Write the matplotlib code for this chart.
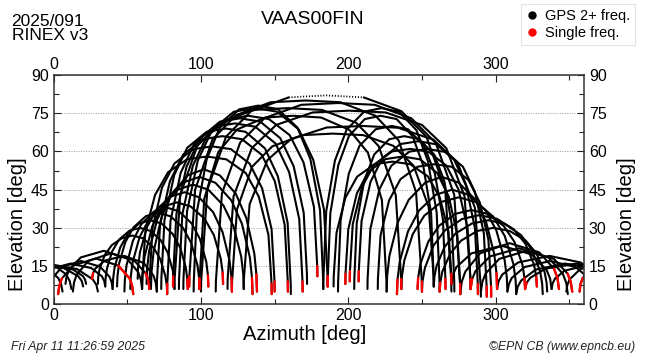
import matplotlib
matplotlib.use("Agg")
import matplotlib.pyplot as plt
from matplotlib.lines import Line2D

plt.rcParams['font.family'] = ['Liberation Sans', 'DejaVu Sans']

# ---------------- data: satellite tracks (azimuth, elevation) -------------
# north-west low passes
nw_az = [
    [270, 271, 273.4, 283.6, 304, 324.4, 334.6, 337, 338],
    [276, 277, 279.4, 289.4, 309.5, 329.6, 339.7, 342, 343],
    [283, 284, 286.3, 296.2, 316, 335.8, 345.7, 348, 349],
    [290, 291, 293.1, 302.4, 321, 339.6, 348.9, 351, 352],
    [301, 302, 304.6, 315.2, 336.5, 357.8, 368.5, 370.9, 372],
    [308, 309, 310.9, 319.6, 337, 354.4, 363.1, 365, 366],
    [314, 315, 317.3, 327.2, 347, 366.8, 376.7, 379, 380],
    [320, 321, 323.5, 334, 355, 376, 386.5, 389, 390],
]
nw_el = [
    [8, 11.6, 14.6, 20, 23, 19.6, 13.5, 10.1, 6],
    [4, 8.8, 12.8, 20, 24, 20.4, 13.9, 10.3, 6],
    [6, 9.8, 13, 18.8, 22, 18.4, 11.9, 8.3, 4],
    [5, 8.8, 12, 17.8, 21, 17.8, 12, 8.8, 5],
    [6, 9.1, 11.7, 16.4, 19, 16.4, 11.7, 9.1, 6],
    [5, 7.9, 10.3, 14.6, 17, 14.6, 10.3, 7.9, 5],
    [4, 6.9, 9.3, 13.6, 16, 14.2, 11, 9.2, 7],
    [6, 8.4, 10.4, 14, 16, 13.8, 9.8, 7.6, 5],
]
nw_red = [(0, 0), (0, 2), (1, 0), (0, 2), (0, 0), (0, 0), (0, 0), (1, 0)]

# north-east low passes
ne_az = [
    [-22, -21.3, -19.8, -13.2, 0, 13.2, 19.8, 21.3, 22],
    [-12, -11.3, -9.7, -2.6, 11.5, 25.6, 32.7, 34.3, 35],
    [-3, -2.4, -0.9, 5.6, 18.5, 31.4, 37.9, 39.4, 40],
    [3, 3.8, 5.6, 13.2, 28.5, 43.8, 51.5, 53.2, 54],
    [8, 8.8, 10.6, 18.4, 34, 49.6, 57.4, 59.2, 60],
    [13, 13.8, 15.6, 23.4, 39, 54.6, 62.4, 64.2, 65],
    [26, 26.7, 28.2, 34.8, 48, 61.2, 67.8, 69.3, 70],
]
ne_el = [
    [6, 8.2, 10, 13.2, 15, 13.6, 11.1, 9.7, 8],
    [5, 7.6, 9.8, 13.8, 16, 14.2, 11, 9.2, 7],
    [5, 7.9, 10.3, 14.6, 17, 14.8, 10.8, 8.6, 6],
    [4, 7.4, 10.2, 15.2, 18, 15.2, 10.2, 7.4, 4],
    [8, 11.1, 13.7, 18.4, 21, 18, 12.6, 9.6, 6],
    [5, 8.6, 11.6, 17, 20, 17.2, 12.2, 9.4, 6],
    [10, 12.2, 14, 17.2, 19, 16.2, 11.2, 8.4, 5],
]
ne_red = [(0, 0), (0, 0), (2, 0), (2, 3), (0, 0), (0, 2), (1, 0)]

# eastern medium passes
e_az = [
    [30, 30.2, 31.2, 34.7, 39.4, 46.5, 53.5, 60.6, 67.6, 72.3, 75.8, 76.8, 77],
    [35, 35.2, 36.2, 39.7, 44.4, 51.5, 58.5, 65.6, 72.6, 77.3, 80.8, 81.8, 82],
    [40, 40.3, 41.3, 45.1, 50.2, 57.9, 65.5, 73.2, 80.8, 85.9, 89.7, 90.7, 91],
    [43, 43.3, 44.4, 48.6, 54.2, 62.6, 71, 79.4, 87.8, 93.4, 97.6, 98.7, 99],
    [48, 48.3, 49.4, 53.7, 59.4, 68, 76.5, 85.1, 93.6, 99.3, 103.6, 104.7, 105],
    [52, 52.3, 53.6, 58.3, 64.6, 74.1, 83.5, 93, 102.4, 108.7, 113.4, 114.7, 115],
    [57, 57.3, 58.6, 63.4, 69.8, 79.4, 89, 98.6, 108.2, 114.6, 119.4, 120.7, 121],
    [60, 60.3, 61.7, 66.9, 73.8, 84.2, 94.5, 104.9, 115.2, 122.1, 127.3, 128.7, 129],
    [63, 63.4, 64.8, 70.2, 77.4, 88.2, 99, 109.8, 120.6, 127.8, 133.2, 134.6, 135],
    [66, 66.4, 67.8, 73.2, 80.4, 91.2, 102, 112.8, 123.6, 130.8, 136.2, 137.6, 138],
]
e_el = [
    [8, 10.7, 13.9, 19.4, 23.2, 26, 27, 25.9, 22.4, 17.8, 11.1, 7.2, 4],
    [7, 10.2, 14.1, 20.8, 25.4, 28.9, 30, 28.8, 25.2, 20.4, 13.4, 9.4, 6],
    [6, 9.8, 14.4, 22.2, 27.6, 31.7, 33, 31.7, 27.6, 22.2, 14.4, 9.8, 6],
    [7, 11.1, 16, 24.4, 30.2, 34.6, 36, 34.5, 30, 24, 15.3, 10.2, 6],
    [5, 9.6, 15.2, 24.8, 31.4, 36.4, 38, 36.5, 31.8, 25.6, 16.6, 11.3, 7],
    [6, 10.8, 16.5, 26.4, 33.2, 38.3, 40, 38.4, 33.6, 27.2, 17.9, 12.5, 8],
    [10, 14.8, 20.5, 30.4, 37.2, 42.3, 44, 42, 36.2, 28.4, 17.1, 10.5, 5],
    [6, 11.7, 18.7, 30.6, 38.8, 45, 47, 45, 38.8, 30.6, 18.7, 11.7, 6],
    [8, 13.9, 21, 33.2, 41.6, 47.9, 50, 47.7, 40.8, 31.6, 18.3, 10.4, 4],
    [6, 12.6, 20.6, 34.2, 43.6, 50.7, 53, 50.6, 43.4, 33.8, 19.9, 11.7, 5],
]
e_red = [(0, 0), (0, 0), (0, 1), (0, 1), (0, 1), (0, 1), (0, 1), (0, 0), (0, 1), (0, 1)]

# eastern high passes
d_az = [
    [60, 60.1, 62.2, 68.8, 77.6, 90.8, 104, 117.2, 130.4, 139.2, 145.8, 147.9, 148],
    [65, 65.1, 67.1, 73.5, 82, 94.8, 107.5, 120.3, 133, 141.5, 147.9, 149.9, 150],
    [70, 70.1, 72.2, 78.9, 87.8, 101.2, 114.5, 127.8, 141.2, 150.1, 156.8, 158.9, 159],
    [73, 73.1, 75.2, 81.8, 90.6, 103.8, 117, 130.2, 143.4, 152.2, 158.8, 160.9, 161],
    [77, 77.1, 79.3, 86.2, 95.4, 109.2, 123, 136.8, 150.6, 159.8, 166.7, 168.9, 169],
    [81, 81.1, 83.3, 90.1, 99.2, 112.9, 126.5, 140.2, 153.8, 162.9, 169.7, 171.9, 172],
    [85, 85.1, 87.3, 94.4, 103.8, 117.9, 132, 146.1, 160.2, 169.6, 176.7, 178.9, 179],
    [88, 88.1, 90.5, 97.8, 107.6, 122.3, 137, 151.7, 166.4, 176.2, 183.5, 185.9, 186],
    [95, 95.1, 97.2, 103.8, 112.6, 125.8, 139, 152.2, 165.4, 174.2, 180.8, 182.9, 183],
]
d_el = [
    [6, 10, 28.4, 42.9, 51.8, 57, 58, 56.9, 51.5, 42.3, 27.2, 8, 4],
    [6, 10, 30.1, 45.8, 55.3, 60.9, 62, 60.9, 55.2, 45.5, 29.5, 9, 5],
    [5, 9, 31.2, 48.3, 58.7, 64.8, 66, 64.8, 58.7, 48.3, 31.2, 9, 5],
    [6, 10, 33.1, 50.7, 61.4, 67.7, 69, 67.7, 61.2, 50.2, 32, 8, 4],
    [4, 8, 32.8, 51.6, 63, 69.7, 71, 69.7, 63.1, 51.9, 33.4, 9, 5],
    [7, 11, 35.4, 53.9, 65.1, 71.7, 73, 71.7, 65.2, 54.2, 36, 12, 8],
    [6, 10, 35.2, 54.3, 65.8, 72.6, 74, 72.7, 66.4, 55.7, 38.1, 15, 11],
    [6, 10, 36.5, 56.4, 68.5, 75.6, 77, 75.6, 68.6, 56.7, 37.1, 11, 7],
    [5, 9, 36.4, 56.8, 69.2, 76.5, 78, 76.6, 69.4, 57.1, 37, 10, 6],
]
d_red = [(0, 1), (0, 1), (0, 1), (0, 0), (1, 1), (1, 0), (0, 1), (0, 1), (0, 0)]

# southern high passes
c_az = [
    [100, 100.1, 104.3, 117, 134, 159.5, 185, 210.5, 236, 253, 265.8, 269.9, 270],
    [92, 92.1, 96, 107.8, 123.6, 147.3, 171, 194.7, 218.4, 234.2, 246, 249.9, 250],
    [110, 110.1, 114.2, 126.6, 143.2, 168.1, 193, 217.9, 242.8, 259.4, 271.9, 275.9, 276],
    [82, 82.1, 85.9, 97.4, 112.8, 135.9, 159, 182.1, 205.2, 220.6, 232.2, 235.9, 236],
    [118, 118.1, 122.1, 134.5, 151, 175.8, 200.5, 225.3, 250, 266.5, 278.9, 282.9, 283],
    [99, 99.1, 102.2, 111.7, 124.4, 143.5, 162.5, 181.6, 200.6, 213.3, 222.8, 225.9, 226],
    [129, 129.1, 133, 145.1, 161.2, 185.4, 209.5, 233.7, 257.8, 273.9, 286, 289.9, 290],
    [121, 121.1, 124.4, 134.7, 148.4, 169, 189.5, 210.1, 230.6, 244.3, 254.6, 257.9, 258],
]
c_el = [
    [5, 9, 45, 65.8, 75.8, 81.2, 82, 81.2, 75.8, 65.8, 45, 9, 5],
    [7, 11, 45, 64.7, 74.2, 79.3, 80, 79.3, 74, 64.3, 44, 9, 5],
    [5, 9, 43.5, 63.5, 73.1, 78.3, 79, 78.3, 73, 63.3, 43, 8, 4],
    [6, 10, 42.9, 62.1, 71.3, 76.3, 77, 76.3, 71.3, 62.1, 42.9, 10, 6],
    [6, 10, 42.4, 61.3, 70.4, 75.3, 76, 75.3, 70.4, 61.3, 42.4, 10, 6],
    [6, 10, 41.4, 59.7, 68.6, 73.3, 74, 73.3, 68.5, 59.5, 40.9, 9, 5],
    [6, 10, 39.3, 56.6, 64.9, 69.4, 70, 69.3, 64.6, 55.9, 37.8, 7, 3],
    [5, 9, 37.2, 54, 62, 66.4, 67, 66.4, 62.2, 54.4, 38.2, 11, 7],
]
c_red = [(0, 0), (1, 1), (0, 1), (0, 1), (0, 1), (1, 0), (0, 0), (0, 0)]
# sparse (dotted) top of the highest pass: first track, points 5..7
sparse_track = 0
sparse_span = (5, 7)

# western high passes
w_az = [
    [190, 190.1, 192, 198, 206, 218, 230, 242, 254, 262, 268, 269.9, 270],
    [198, 198.1, 200, 205.8, 213.6, 225.3, 237, 248.7, 260.4, 268.2, 274, 275.9, 276],
    [201, 201.1, 203, 209.2, 217.4, 229.7, 242, 254.3, 266.6, 274.8, 281, 282.9, 283],
    [207, 207.1, 209, 215.1, 223.2, 235.4, 247.5, 259.7, 271.8, 279.9, 286, 287.9, 288],
    [213, 213.1, 215, 221.1, 229.2, 241.4, 253.5, 265.7, 277.8, 285.9, 292, 293.9, 294],
    [220, 220.1, 221.9, 227.7, 235.4, 247, 258.5, 270.1, 281.6, 289.3, 295.1, 296.9, 297],
    [183, 183.1, 185, 190.9, 198.8, 210.7, 222.5, 234.4, 246.2, 254.1, 260, 261.9, 262],
    [186, 186.1, 187.8, 193.2, 200.4, 211.2, 222, 232.8, 243.6, 250.8, 256.2, 257.9, 258],
    [193, 193.1, 194.8, 200.3, 207.6, 218.6, 229.5, 240.5, 251.4, 258.7, 264.2, 265.9, 266],
    [204, 204.1, 205.7, 210.8, 217.6, 227.8, 238, 248.2, 258.4, 265.2, 270.3, 271.9, 272],
]
w_el = [
    [7, 11, 28.1, 41.8, 50.1, 55, 56, 55, 50.2, 42.1, 28.6, 12, 8],
    [8, 12, 29.5, 43.5, 52, 57, 58, 56.9, 51.5, 42.3, 27.2, 8, 4],
    [9, 13, 31.4, 45.9, 54.8, 60, 61, 59.9, 54.4, 45.1, 29.7, 10, 6],
    [9, 13, 32.7, 48.1, 57.4, 62.9, 64, 62.8, 56.8, 46.6, 29.8, 8, 4],
    [6, 10, 29.7, 45.1, 54.4, 59.9, 61, 59.8, 54, 44.2, 27.9, 7, 3],
    [6, 10, 27.1, 40.8, 49.1, 54, 55, 54, 48.8, 39.9, 25.4, 7, 3],
    [6, 10, 36.5, 56.4, 68.5, 75.6, 77, 75.6, 68.4, 56.1, 36, 9, 5],
    [7, 11, 35.8, 54.6, 66, 72.7, 74, 72.7, 66, 54.6, 35.8, 11, 7],
    [5, 9, 33, 51.2, 62.2, 68.7, 70, 68.7, 62.3, 51.4, 33.5, 10, 6],
    [6, 10, 31.8, 48.6, 58.8, 64.8, 66, 64.8, 58.7, 48.3, 31.2, 9, 5],
]
w_red = [(0, 1), (1, 0), (1, 0), (1, 1), (0, 1), (0, 1), (0, 0), (1, 0), (0, 1), (0, 0)]

# western medium passes
b_az = [
    [226, 226.4, 227.9, 233.5, 241, 252.3, 263.5, 274.8, 286, 293.5, 299.1, 300.6, 301],
    [233, 233.4, 234.9, 240.5, 248, 259.3, 270.5, 281.8, 293, 300.5, 306.1, 307.6, 308],
    [236, 236.4, 238, 243.8, 251.6, 263.3, 275, 286.7, 298.4, 306.2, 312.1, 313.6, 314],
    [247, 247.4, 248.8, 254.3, 261.6, 272.6, 283.5, 294.5, 305.4, 312.7, 318.2, 319.6, 320],
    [250, 250.4, 252, 257.8, 265.6, 277.3, 289, 300.7, 312.4, 320.2, 326, 327.6, 328],
    [258, 258.4, 259.9, 265.4, 272.8, 283.9, 295, 306.1, 317.2, 324.6, 330.2, 331.6, 332],
    [262, 262.4, 263.8, 269.3, 276.6, 287.6, 298.5, 309.5, 320.4, 327.7, 333.2, 334.6, 335],
]
b_el = [
    [5, 11.3, 19, 32, 41, 47.8, 50, 47.8, 41.2, 32.4, 19.6, 12.2, 6],
    [4, 9.7, 16.7, 28.6, 36.8, 43, 45, 43, 37, 29, 17.4, 10.6, 5],
    [6, 11, 17.2, 27.6, 34.8, 40.2, 42, 40.1, 34.4, 26.8, 15.8, 9.3, 4],
    [6, 10.3, 15.6, 24.6, 30.8, 35.5, 37, 35.5, 30.8, 24.6, 15.6, 10.3, 6],
    [5, 9.2, 14.3, 23, 29, 33.5, 35, 33.6, 29.4, 23.8, 15.7, 10.9, 7],
    [7, 10.6, 15.1, 22.6, 27.8, 31.7, 33, 31.6, 27.2, 21.4, 13, 8.1, 4],
    [5, 8.5, 12.8, 20, 25, 28.8, 30, 28.8, 25, 20, 12.8, 8.5, 5],
]
b_red = [(0, 1), (1, 0), (0, 0), (1, 1), (0, 1), (0, 0), (1, 0)]

x_ticks = [0, 100, 200, 300]
x_minor = [50, 150, 250, 350]
y_ticks = [0, 15, 30, 45, 60, 75, 90]
y_minor = [7.5, 22.5, 37.5, 52.5, 67.5, 82.5]

station = "VAAS00FIN"
date_str = "2025/091"
rinex_str = "RINEX v3"
stamp = "Fri Apr 11 11:26:59 2025"
credit = "\u00a9EPN CB (www.epncb.eu)"
legend_labels = ["GPS 2+ freq.", "Single freq."]

# ---------------- figure ----------------
fig = plt.figure(figsize=(6.5, 3.6), dpi=100)
ax = fig.add_axes([53.7 / 650, 1 - 304.3 / 360, (584 - 53.7) / 650, (304.3 - 75) / 360])
ax.set_xlim(0, 360)
ax.set_ylim(0, 90)

LW = 1.5
families = [(nw_az, nw_el, nw_red), (ne_az, ne_el, ne_red), (e_az, e_el, e_red),
            (d_az, d_el, d_red), (c_az, c_el, c_red), (w_az, w_el, w_red),
            (b_az, b_el, b_red)]


def plot_wrapped(az, el, **kw):
    for shift in (-360, 0, 360):
        xs = [a + shift for a in az]
        if max(xs) < 0 or min(xs) > 360:
            continue
        ax.plot(xs, el, **kw)


for fam_az, fam_el, fam_red in families:
    for i, (az, el) in enumerate(zip(fam_az, fam_el)):
        if fam_az is c_az and i == sparse_track:
            s0, s1 = sparse_span
            plot_wrapped(az[:s0 + 1], el[:s0 + 1], color='black', lw=LW, solid_capstyle='round')
            plot_wrapped(az[s1:], el[s1:], color='black', lw=LW, solid_capstyle='round')
            plot_wrapped(az[s0:s1 + 1], el[s0:s1 + 1], color='black', lw=1.3,
                         linestyle=(0, (0.6, 1.0)))
        else:
            plot_wrapped(az, el, color='black', lw=LW, solid_capstyle='round')

for fam_az, fam_el, fam_red in families:
    for az, el, (r0, r1) in zip(fam_az, fam_el, fam_red):
        if r0:
            plot_wrapped(az[:r0 + 1], el[:r0 + 1], color='red', lw=LW + 0.2, solid_capstyle='round')
        if r1:
            plot_wrapped(az[-r1 - 1:], el[-r1 - 1:], color='red', lw=LW + 0.2, solid_capstyle='round')

# axes styling
ax.set_xticks(x_ticks)
ax.set_xticks(x_minor, minor=True)
ax.set_yticks(y_ticks)
ax.set_yticks(y_minor, minor=True)
ax.tick_params(which='both', direction='in', top=True, right=True,
               labeltop=True, labelright=True, labelsize=11.5, colors='#222222')
ax.tick_params(which='major', length=5, width=0.8)
ax.tick_params(which='minor', length=3.5, width=0.8)
ax.tick_params(axis='x', pad=2.5)
ax.tick_params(axis='y', pad=3.5)
for lab in ax.get_xticklabels() + ax.get_yticklabels():
    lab.set_color('black')
ax.yaxis.grid(True, which='major', linestyle=(0, (1, 1.5)), color='#9a9a9a', lw=0.7)
ax.set_axisbelow(True)
for sp in ax.spines.values():
    sp.set_linewidth(1.1)
    sp.set_color('#333333')

fig.text(18 / 650, 1 - 224 / 360, "Elevation [deg]", rotation=90, ha='center', va='center', fontsize=14.5)
fig.text(626 / 650, 1 - 224 / 360, "Elevation [deg]", rotation=90, ha='center', va='center', fontsize=14.5)
fig.text(305 / 650, 1 - 334 / 360, "Azimuth [deg]", ha='center', va='center', fontsize=14.5)

fig.text(313 / 650, 1 - 20 / 360, station, ha='center', va='center', fontsize=14)
fig.text(11.5 / 650, 1 - 21 / 360, date_str, ha='left', va='center', fontsize=12.5)
fig.text(11.5 / 650, 1 - 35 / 360, rinex_str, ha='left', va='center', fontsize=12.5)

fig.text(11 / 650, 1 - 347 / 360, stamp, ha='left', va='center', fontsize=8.8, style='italic', color='#222222')
fig.text(635 / 650, 1 - 347 / 360, credit, ha='right', va='center', fontsize=8.8, style='italic', color='#222222')

handles = [Line2D([], [], marker='o', color='none', markerfacecolor='black', markeredgecolor='black', markersize=5),
           Line2D([], [], marker='o', color='none', markerfacecolor='red', markeredgecolor='red', markersize=5)]
leg = fig.legend(handles, legend_labels, loc='upper right', bbox_to_anchor=(635 / 650, 1 - 4 / 360),
                 fontsize=10.5, frameon=True, fancybox=False, handlelength=0.8, handletextpad=0.5,
                 borderpad=0.35, labelspacing=0.2, borderaxespad=0)
leg.get_frame().set_edgecolor('#dddddd')
leg.get_frame().set_linewidth(0.8)

fig.savefig("out.png", dpi=100)
